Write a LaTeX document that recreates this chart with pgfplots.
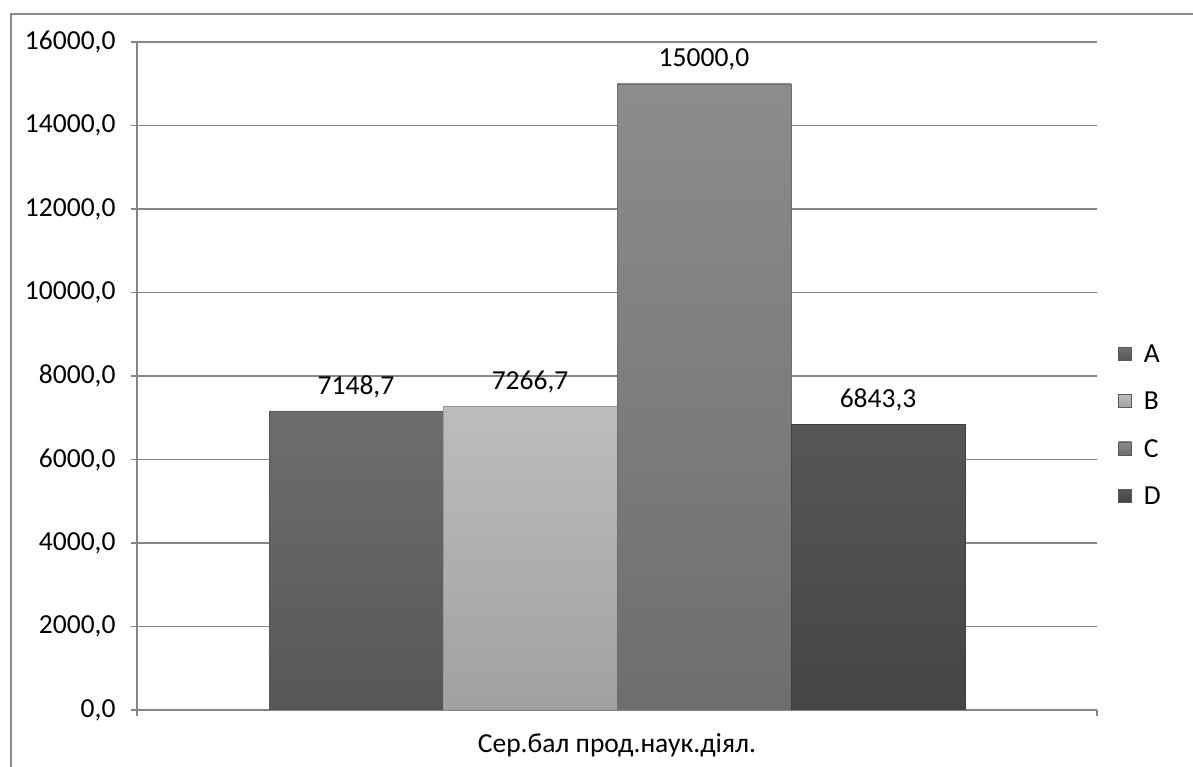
\documentclass[border=0pt]{standalone}
\usepackage{fontspec}
\setmainfont{Carlito}
\usepackage{pgfplots}
\pgfplotsset{compat=1.18}

\definecolor{gridgray}{HTML}{868686}
\definecolor{frameGray}{HTML}{8C8C8C}

\begin{document}
\begin{tikzpicture}
\useasboundingbox (0,0) rectangle (1193bp,767bp);
% outer chart frame (left and top edges)
\draw[frameGray, line width=2bp] (11bp,-2bp) -- (11bp,753bp) -- (1196bp,753bp);
\begin{axis}[
  at={(137bp,57bp)}, anchor=south west,
  width=960bp, height=668bp, scale only axis,
  xmin=-0.5, xmax=0.5,
  ymin=0, ymax=16000,
  ytick distance=2000,
  scaled y ticks=false,
  xtick={-0.5,0.5}, xticklabels={},
  axis x line*=bottom, axis y line*=left,
  axis line style={gridgray, line width=1.5bp},
  tick style={gridgray, line width=1.5bp},
  tick align=outside, major tick length=6bp,
  ymajorgrids, grid style={gridgray, line width=1.5bp},
  /pgf/number format/assume math mode=true,
  yticklabel={\pgfmathprintnumber[fixed,fixed zerofill,precision=1,use comma,1000 sep={}]{\tick}},
  ticklabel style={font=\fontsize{27.5bp}{33bp}\selectfont, text=black},
  yticklabel style={xshift=-12bp},
  xlabel={Сер.бал прод.наук.діял.},
  xlabel style={font=\fontsize{27.5bp}{33bp}\selectfont, at={(axis description cs:0.5,0)}, anchor=center, yshift=-35bp},
  bar width=0.1812,
  nodes near coords={\pgfmathprintnumber[fixed,fixed zerofill,precision=1,use comma,1000 sep={}]{\pgfplotspointmeta}},
  every node near coord/.append style={font=\fontsize{27.5bp}{33bp}\selectfont, text=black, yshift=10bp},
  legend style={draw=none, fill=none, at={(axis description cs:1.022,0.426)}, anchor=west,
    font=\fontsize{27.5bp}{33bp}\selectfont, row sep=24bp, inner sep=0pt,
    /tikz/every odd column/.append style={column sep=10bp}},
  legend cell align=left,
  legend image code/.code={\fill[#1, draw=gray!70!black, line width=0.6bp] (0bp,-6bp) rectangle (13bp,7bp);},
]
\addplot[ybar, bar shift=0pt, draw=black!66, line width=0.4bp, top color=black!57, bottom color=black!66]
  coordinates {(-0.2719,7148.7)};
\addplot[ybar, bar shift=0pt, draw=black!40, line width=0.4bp, top color=black!26, bottom color=black!37]
  coordinates {(-0.0906,7266.7)};
\addplot[ybar, bar shift=0pt, draw=black!57, line width=0.4bp, top color=black!45, bottom color=black!57]
  coordinates {(0.0906,15000.0)};
\addplot[ybar, bar shift=0pt, draw=black!75, line width=0.4bp, top color=black!66, bottom color=black!73]
  coordinates {(0.2719,6843.3)};
\legend{A,B,C,D}
\end{axis}
\end{tikzpicture}
\end{document}
